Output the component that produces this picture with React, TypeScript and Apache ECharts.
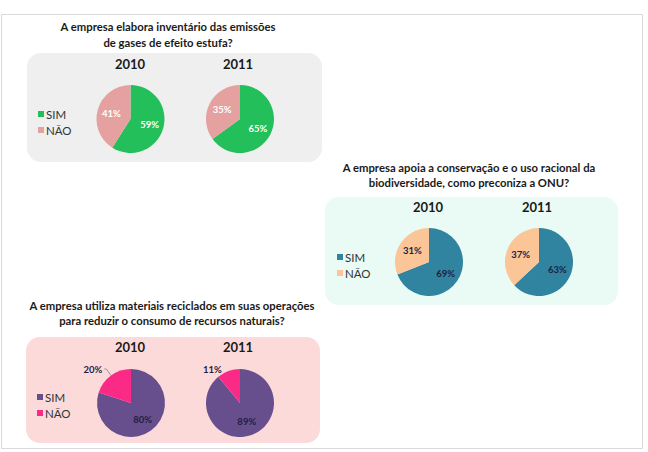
import { useEffect, useRef } from 'react';
import * as echarts from 'echarts';

// Answers and survey years
const answers = ['SIM', 'NÃO'];
const years = ['2010', '2011'];

// Share of companies (%) per answer [SIM, NÃO]
const inventario2010 = [59, 41];
const inventario2011 = [65, 35];
const biodiversidade2010 = [69, 31];
const biodiversidade2011 = [63, 37];
const reciclados2010 = [80, 20];
const reciclados2011 = [89, 11];

// Question texts
const questions = [
  'A empresa elabora inventário das emissões\nde gases de efeito estufa?',
  'A empresa apoia a conservação e o uso racional da\nbiodiversidade, como preconiza a ONU?',
  'A empresa utiliza materiais reciclados em suas operações\npara reduzir o consumo de recursos naturais?',
];

const FONT = 'Lato, "Open Sans", sans-serif';

const palettes = {
  inventario: { sim: '#22bf5a', nao: '#e5a19f', bg: '#efefef', label: '#ffffff' },
  biodiversidade: { sim: '#30849f', nao: '#fbc597', bg: '#eafaf4', label: '#1e2240' },
  reciclados: { sim: '#674f8d', nao: '#fb2a86', bg: '#fddada', label: '#241c44' },
};

type Palette = { sim: string; nao: string; bg: string; label: string };

function pieSeries(
  values: number[],
  center: [number, number],
  p: Palette,
  naoOutside?: { length: number; length2: number; line: boolean }
) {
  return {
    type: 'pie',
    center,
    radius: 34,
    startAngle: 90,
    clockwise: true,
    silent: true,
    avoidLabelOverlap: false,
    emphasis: { disabled: true },
    label: {
      show: true,
      position: 'inside',
      formatter: '{c}%',
      color: p.label,
      fontSize: 9.5,
      fontWeight: 'bold',
      fontFamily: FONT,
    },
    labelLine: { show: false },
    data: answers.map((name, i) => {
      const item: any = { name, value: values[i], itemStyle: { color: i === 0 ? p.sim : p.nao } };
      if (i === 1 && naoOutside) {
        item.label = { position: 'outside', distanceToLabelLine: 2 };
        item.labelLine = {
          show: naoOutside.line,
          length: naoOutside.length,
          length2: naoOutside.length2,
          lineStyle: { color: '#8a7f8a', width: 0.8 },
        };
      }
      return item;
    }),
  };
}

function legendFor(left: number, top: number, p: Palette) {
  return {
    orient: 'vertical',
    left,
    top,
    padding: 0,
    itemWidth: 6,
    itemHeight: 6,
    itemGap: 2,
    icon: 'rect',
    selectedMode: false,
    textStyle: { fontSize: 11.5, fontFamily: FONT, color: '#333333', lineHeight: 14, padding: [0, 0, 0, -3] },
    data: answers.map((name, i) => ({ name, itemStyle: { color: i === 0 ? p.sim : p.nao } })),
  };
}

function text(x: number, y: number, t: string, size: number, lineHeight?: number) {
  return {
    type: 'text',
    x,
    y,
    silent: true,
    style: {
      text: t,
      align: 'center',
      verticalAlign: 'middle',
      fontSize: size,
      fontWeight: 'bold',
      fontFamily: FONT,
      fill: '#1a1a1a',
      lineHeight,
    },
  };
}

function panel(x: number, y: number, w: number, h: number, fill: string) {
  return { type: 'rect', shape: { x, y, width: w, height: h, r: 14 }, style: { fill }, silent: true, z: -1 };
}

export default function App() {
  const ref = useRef<HTMLDivElement>(null);

  useEffect(() => {
    if (!ref.current) return;
    const chart = echarts.init(ref.current, null, { renderer: 'svg' });
    chart.setOption({
      animation: false,
      backgroundColor: '#ffffff',
      graphic: [
        {
          type: 'rect',
          shape: { x: 1.5, y: 14.5, width: 641, height: 434 },
          style: { fill: '#ffffff', stroke: '#d9d9d9', lineWidth: 1 },
          silent: true,
          z: -2,
        },
        panel(27, 53, 295, 109, palettes.inventario.bg),
        panel(325, 197, 293, 108, palettes.biodiversidade.bg),
        panel(26, 337, 294, 106, palettes.reciclados.bg),
        text(168, 34, questions[0], 11.3, 16),
        text(469, 175, questions[1], 11.3, 15),
        text(172, 313, questions[2], 11.3, 15),
        text(130, 64, years[0], 13),
        text(238, 64, years[1], 13),
        text(428, 207, years[0], 13),
        text(537, 207, years[1], 13),
        text(130, 347, years[0], 13),
        text(238, 347, years[1], 13),
      ],
      legend: [
        legendFor(38, 107, palettes.inventario),
        legendFor(337, 250, palettes.biodiversidade),
        legendFor(37, 390, palettes.reciclados),
      ],
      series: [
        pieSeries(inventario2010, [130.5, 119], palettes.inventario),
        pieSeries(inventario2011, [240, 119], palettes.inventario),
        pieSeries(biodiversidade2010, [429, 262], palettes.biodiversidade),
        pieSeries(biodiversidade2011, [539, 262], palettes.biodiversidade),
        pieSeries(reciclados2010, [131, 403], palettes.reciclados, { length: 8, length2: 2, line: true }),
        pieSeries(reciclados2011, [240, 403], palettes.reciclados, { length: 2, length2: 4, line: false }),
      ],
    });
    return () => chart.dispose();
  }, []);

  return <div ref={ref} style={{ position: 'fixed', left: 0, top: 0, width: 648, height: 452 }} />;
}
